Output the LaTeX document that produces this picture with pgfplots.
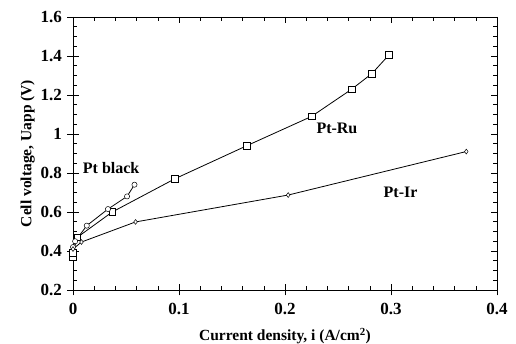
\documentclass[border=0pt]{standalone}
\usepackage{pgfplots}
\pgfplotsset{compat=1.18}
\usepackage{fontspec}
\setmainfont{Liberation Serif}
\begin{document}
\begin{tikzpicture}
\useasboundingbox (-73pt,-54pt) rectangle (443pt,290pt);
\pgfplotsset{common/.style={
  scale only axis, width=424pt, height=273pt,
  xmin=0, xmax=0.4, ymin=0.2, ymax=1.6,
  xtick={0,0.1,0.2,0.3,0.4}, ytick={0.2,0.4,...,1.6},
  tick style={black, line width=0.6pt},
  axis line style={line width=0.7pt},
}}
% inner ticks (all four sides)
\begin{axis}[common,
  minor x tick num=4, minor y tick num=3,
  tick align=inside, major tick length=6pt, minor tick length=4pt,
  xticklabels={}, yticklabels={},
]
\end{axis}
% main axis with centred major ticks on bottom/left
\begin{axis}[common,
  tick pos=left, tick align=center, major tick length=11pt,
  xticklabels={0,0.1,0.2,0.3,0.4},
  yticklabels={0.2,0.4,0.6,0.8,1,1.2,1.4,1.6},
  ticklabel style={font=\fontsize{17}{20}\selectfont\bfseries},
  xticklabel style={yshift=-4pt},
  yticklabel style={xshift=-2pt},
  xlabel={Current density, i (A/cm\textsuperscript{2})},
  ylabel={Cell voltage, Uapp (V)},
  label style={font=\fontsize{15.5}{18}\selectfont\bfseries},
  xlabel style={yshift=-6.5pt},
  ylabel style={yshift=-1pt},
  every axis plot/.append style={black, line width=0.8pt, mark options={solid, fill=white, line width=0.5pt}},
  clip=false,
]
\addplot[mark=square*, mark size=3.3pt] coordinates {
(0,0.37) (0,0.39) (0.004,0.47) (0.037,0.60) (0.096,0.77) (0.164,0.94) (0.225,1.09) (0.263,1.23) (0.282,1.31) (0.298,1.405)};
\addplot[mark=*, mark size=2.6pt] coordinates {
(0,0.42) (0.002,0.45) (0.013,0.53) (0.033,0.615) (0.051,0.68) (0.058,0.74)};
\addplot[mark=diamond*, mark size=2.4pt] coordinates {
(0,0.41) (0.008,0.446) (0.059,0.549) (0.203,0.687) (0.371,0.91)};
\node[font=\fontsize{16}{18}\selectfont\bfseries] at (axis cs:0.036,0.826) {Pt black};
\node[font=\fontsize{16}{18}\selectfont\bfseries] at (axis cs:0.249,1.03) {Pt-Ru};
\node[font=\fontsize{16}{18}\selectfont\bfseries] at (axis cs:0.309,0.70) {Pt-Ir};
\end{axis}
\end{tikzpicture}
\end{document}
